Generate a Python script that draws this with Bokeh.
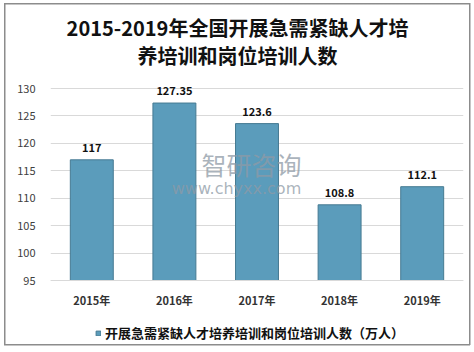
from bokeh.plotting import figure
from bokeh.models import (ColumnDataSource, Range1d, LabelSet, Label, Legend, LegendItem,
                          FactorRange)
from bokeh.core.properties import value
from bokeh.embed import file_html
from bokeh.resources import INLINE

years = ["2015年", "2016年", "2017年", "2018年", "2019年"]
counts = [117, 127.35, 123.6, 108.8, 112.1]
count_labels = ["117", "127.35", "123.6", "108.8", "112.1"]
title_lines = ["2015-2019年全国开展急需紧缺人才培", "养培训和岗位培训人数"]
series_name = "开展急需紧缺人才培养培训和岗位培训人数（万人）"
y_ticks = [95, 100, 105, 110, 115, 120, 125, 130]

FONT = "Noto Sans CJK SC"

# pixel helpers (frame: x 50..463; value axis 130 at y=88, 95 at y=280)
FX0, FX1, FY0, FY1 = 50, 463, 88, 280
FTOP, FBOT = 3, 345
def dx(px):
    return (px - FX0) / ((FX1 - FX0) / len(years))
def dy(py):
    return 130 - (py - FY0) / ((FY1 - FY0) / 35)

src = ColumnDataSource(dict(x=years, top=counts, lab=count_labels, bottom=[95] * len(years)))

p = figure(width=474, height=352, x_range=FactorRange(*years),
           y_range=Range1d(dy(FBOT), dy(FTOP)),
           output_backend="svg", toolbar_location=None,
           min_border_top=FTOP, min_border_bottom=352 - FBOT, min_border_left=FX0,
           min_border_right=474 - FX1)
p.outline_line_color = None
p.background_fill_alpha = 0
p.border_fill_alpha = 0
g = "linear-gradient(#8c8c8c,#8c8c8c)"
p.styles = {
    "background-color": "white",
    "background-image": ", ".join([g] * 4),
    "background-size": "466px 1.5px, 466px 1.5px, 1.5px 342px, 1.5px 342px",
    "background-position": "4px 3px, 4px 344px, 4px 3px, 469px 3px",
    "background-repeat": "no-repeat",
}

r = p.vbar(x="x", top="top", bottom="bottom", width=0.52, source=src,
           fill_color="#5b9cbb", line_color="#467a92", line_width=1)

p.add_layout(LabelSet(x="x", y="top", text="lab", source=src, y_offset=8,
                      text_align="center", text_baseline="bottom",
                      text_font=value(FONT), text_font_size="11px",
                      text_font_style="bold", text_color="#111111"))

p.yaxis.ticker = y_ticks
p.yaxis.axis_line_color = None
p.yaxis.major_tick_line_color = None
p.yaxis.minor_tick_line_color = None
p.yaxis.major_label_text_font = FONT
p.yaxis.major_label_text_font_size = "11px"
p.yaxis.major_label_text_color = "#404040"
p.yaxis.major_label_standoff = 9

p.xaxis.fixed_location = 95
p.xaxis.axis_line_color = "#d9d9d9"
p.xaxis.major_tick_line_color = None
p.xaxis.minor_tick_line_color = None
p.xaxis.major_label_text_font = FONT
p.xaxis.major_label_text_font_size = "11px"
p.xaxis.major_label_text_font_style = "bold"
p.xaxis.major_label_text_color = "#333333"
p.xaxis.major_label_standoff = 5

p.xgrid.grid_line_color = None
p.ygrid.grid_line_color = "#d9d9d9"
p.ygrid.ticker = y_ticks

legend = Legend(items=[LegendItem(label=series_name, renderers=[r])],
                location=(45, 3), orientation="horizontal",
                label_text_font=FONT, label_text_font_size="13px",
                label_text_font_style="bold", label_text_color="#111111",
                glyph_width=6, glyph_height=6, border_line_color=None,
                background_fill_alpha=0, padding=0, margin=0, label_standoff=4)
p.add_layout(legend, "center")

# title lines
for i, t in enumerate(title_lines):
    p.add_layout(Label(x=dx(237), y=dy(27 + 28 * i), text=t,
                       text_align="center", text_baseline="middle",
                       text_font=FONT, text_font_size="20px", text_font_style="bold",
                       text_color="#111111"))

# watermark
p.add_layout(Label(x=dx(251), y=dy(163), text="智研咨询",
                   text_align="center", text_baseline="middle", text_font=FONT,
                   text_font_size="25px", text_color="#8e9aa6", text_alpha=0.75))
p.add_layout(Label(x=dx(236), y=dy(188), text="www.chyxx.com",
                   text_align="center", text_baseline="middle", text_font="DejaVu Sans",
                   text_font_size="16px", text_color="#8e9aa6", text_alpha=0.75))

open("out.html", "w").write(file_html(p, INLINE))
